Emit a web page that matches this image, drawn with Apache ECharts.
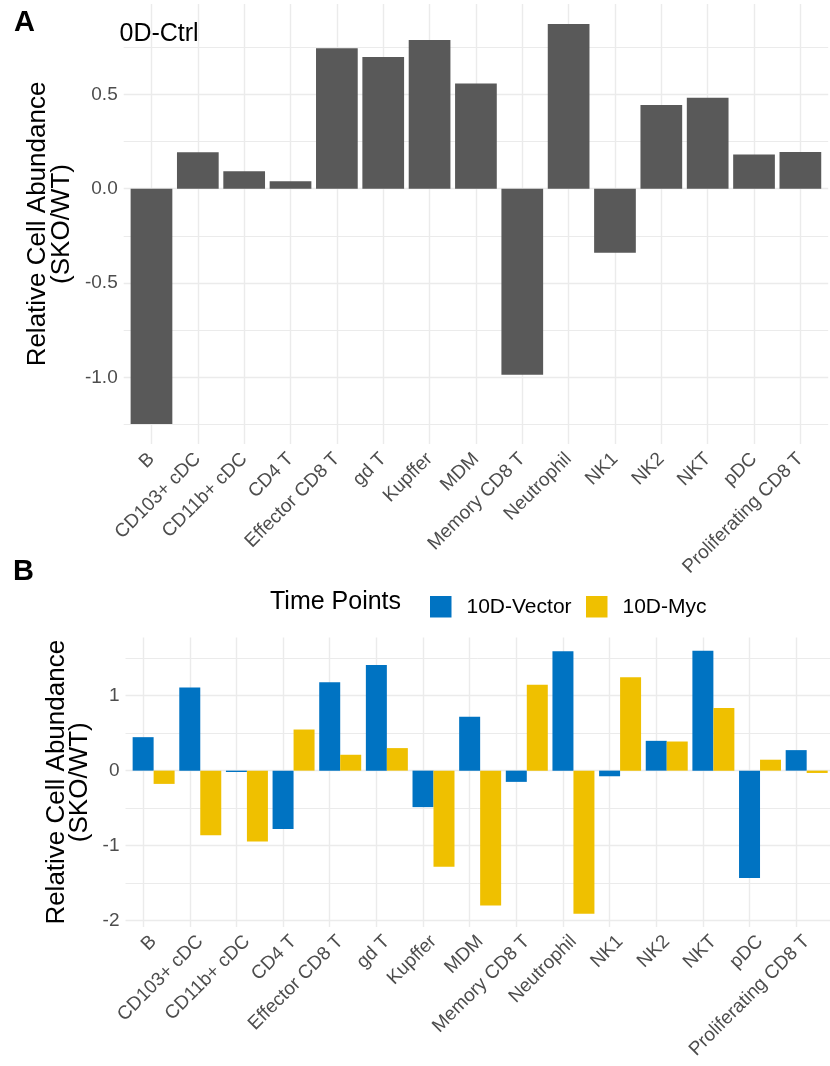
<!DOCTYPE html>
<html><head><meta charset="utf-8">
<script src="https://cdn.jsdelivr.net/npm/echarts@6/dist/echarts.min.js"></script>
<style>html,body{margin:0;padding:0;background:#fff;overflow:hidden}#c{width:830px;height:1066px}</style>
</head><body><div id="c"></div>
<script>
const categories = ['B','CD103+ cDC','CD11b+ cDC','CD4 T','Effector CD8 T','gd T','Kupffer','MDM','Memory CD8 T','Neutrophil','NK1','NK2','NKT','pDC','Proliferating CD8 T'];
const ctrlValues = [-1.247,0.193,0.092,0.039,0.744,0.698,0.788,0.558,-0.986,0.873,-0.339,0.444,0.482,0.182,0.194];
const vectorValues = [0.447,1.111,-0.018,-0.779,1.181,1.412,-0.487,0.721,-0.150,1.593,-0.075,0.398,1.602,-1.434,0.274];
const mycValues = [-0.177,-0.863,-0.947,0.549,0.212,0.301,-1.283,-1.801,1.146,-1.912,1.248,0.389,0.836,0.146,-0.031];
const seriesNames = ['10D-Vector','10D-Myc'];
const yTicksA = [-1.0,-0.5,0.0,0.5];
const yTickLabelsA = ['-1.0','-0.5','0.0','0.5'];
const yMinorA = [-1.25,-0.75,-0.25,0.25,0.75];
const yTicksB = [-2,-1,0,1];
const yTickLabelsB = ['-2','-1','0','1'];
const yMinorB = [-1.5,-0.5,0.5,1.5];

const FONT = '"Liberation Sans", Arial, Helvetica, sans-serif';
function expandRange(vals){const lo=Math.min(0,...vals),hi=Math.max(0,...vals),d=(hi-lo)*0.05;return [lo-d,hi+d];}
const limA = expandRange(ctrlValues);
const limB = expandRange(vectorValues.concat(mycValues));

function hLines(ticks, labels, minors){
  return {silent:true, symbol:['none','none'], z:1, animation:false, emphasis:{disabled:true},
    label:{show:true, position:'start', distance:6, formatter:'{b}', color:'#4d4d4d', fontSize:19, fontFamily:FONT},
    lineStyle:{color:'#ebebeb', width:1.4, type:'solid'},
    data: ticks.map((v,i)=>({yAxis:v, name:labels[i]})).concat(minors.map(v=>({yAxis:v, name:'', label:{show:false}, lineStyle:{color:'#ebebeb', width:1, type:'solid'}})))};
}
function vLines(){
  return {silent:true, symbol:['none','none'], z:1, animation:false, emphasis:{disabled:true},
    label:{show:false}, lineStyle:{color:'#ebebeb', width:1.4, type:'solid'},
    data: categories.map(c=>({xAxis:c}))};
}
const xLabel = (margin)=>({interval:0, rotate:45, fontSize:19, color:'#4d4d4d', fontFamily:FONT, margin:margin, padding:[8,0,0,0]});

const option = {
  animation:false,
  backgroundColor:'#fff',
  textStyle:{fontFamily:FONT},
  grid:[
    {left:123.7, top:4, width:704.5, height:440},
    {left:128.3, top:4, width:695.25, height:440},
    {left:125.5, top:637.5, width:721, height:289.5},
    {left:130.3, top:637.5, width:711.75, height:289.5}
  ],
  xAxis:[
    {gridIndex:0, type:'value', min:0, max:1, show:false},
    {gridIndex:1, type:'category', data:categories, axisLine:{show:false}, axisTick:{show:false}, splitLine:{show:false}, axisLabel:xLabel(12)},
    {gridIndex:2, type:'value', min:0, max:1, show:false},
    {gridIndex:3, type:'category', data:categories, axisLine:{show:false}, axisTick:{show:false}, splitLine:{show:false}, axisLabel:xLabel(11.5)}
  ],
  yAxis:[
    {gridIndex:0, type:'value', min:limA[0], max:limA[1], show:false},
    {gridIndex:1, type:'value', min:limA[0], max:limA[1], show:false},
    {gridIndex:2, type:'value', min:limB[0], max:limB[1], show:false},
    {gridIndex:3, type:'value', min:limB[0], max:limB[1], show:false}
  ],
  legend:[
    {left:425, top:591, itemWidth:21.5, itemHeight:21.5, icon:'rect', selectedMode:false, data:[seriesNames[0]], textStyle:{fontSize:21, color:'#000', fontFamily:FONT, padding:[0,0,0,10]}},
    {left:581, top:591, itemWidth:21.5, itemHeight:21.5, icon:'rect', selectedMode:false, data:[seriesNames[1]], textStyle:{fontSize:21, color:'#000', fontFamily:FONT, padding:[0,0,0,10]}}
  ],
  series:[
    {name:'frameA', type:'line', xAxisIndex:0, yAxisIndex:0, data:[], markLine:hLines(yTicksA, yTickLabelsA, yMinorA)},
    {name:'0D-Ctrl', type:'bar', xAxisIndex:1, yAxisIndex:1, data:ctrlValues, barWidth:'90%', itemStyle:{color:'#595959'}, z:10, markLine:vLines()},
    {name:'frameB', type:'line', xAxisIndex:2, yAxisIndex:2, data:[], markLine:hLines(yTicksB, yTickLabelsB, yMinorB)},
    {name:seriesNames[0], type:'bar', xAxisIndex:3, yAxisIndex:3, data:vectorValues, barWidth:'45%', barGap:'0%', itemStyle:{color:'#0073C2'}, z:10, markLine:vLines()},
    {name:seriesNames[1], type:'bar', xAxisIndex:3, yAxisIndex:3, data:mycValues, barWidth:'45%', barGap:'0%', itemStyle:{color:'#EFC000'}, z:10}
  ],
  graphic:[
    {type:'text', x:14, y:23, style:{text:'A', font:'bold 29px '+FONT, fill:'#000', textAlign:'left', align:'left', textVerticalAlign:'middle', verticalAlign:'middle'}},
    {type:'text', x:119.5, y:34.3, style:{text:'0D-Ctrl', font:'25px '+FONT, fill:'#000', textAlign:'left', align:'left', textVerticalAlign:'middle', verticalAlign:'middle'}},
    {type:'text', x:49.75, y:224, rotation:Math.PI/2, style:{text:'Relative Cell Abundance\n(SKO/WT)', font:'26px '+FONT, lineHeight:23.5, fill:'#000', textAlign:'center', align:'center', textVerticalAlign:'middle', verticalAlign:'middle'}},
    {type:'text', x:13, y:572, style:{text:'B', font:'bold 29px '+FONT, fill:'#000', textAlign:'left', align:'left', textVerticalAlign:'middle', verticalAlign:'middle'}},
    {type:'text', x:68.25, y:782.25, rotation:Math.PI/2, style:{text:'Relative Cell Abundance\n(SKO/WT)', font:'26px '+FONT, lineHeight:23.5, fill:'#000', textAlign:'center', align:'center', textVerticalAlign:'middle', verticalAlign:'middle'}},
    {type:'text', x:270, y:602.5, style:{text:'Time Points', font:'25px '+FONT, fill:'#000', textAlign:'left', align:'left', textVerticalAlign:'middle', verticalAlign:'middle'}}
  ]
};
const chart = echarts.init(document.getElementById('c'), null, {renderer:'canvas'});
chart.setOption(option);
</script></body></html>
